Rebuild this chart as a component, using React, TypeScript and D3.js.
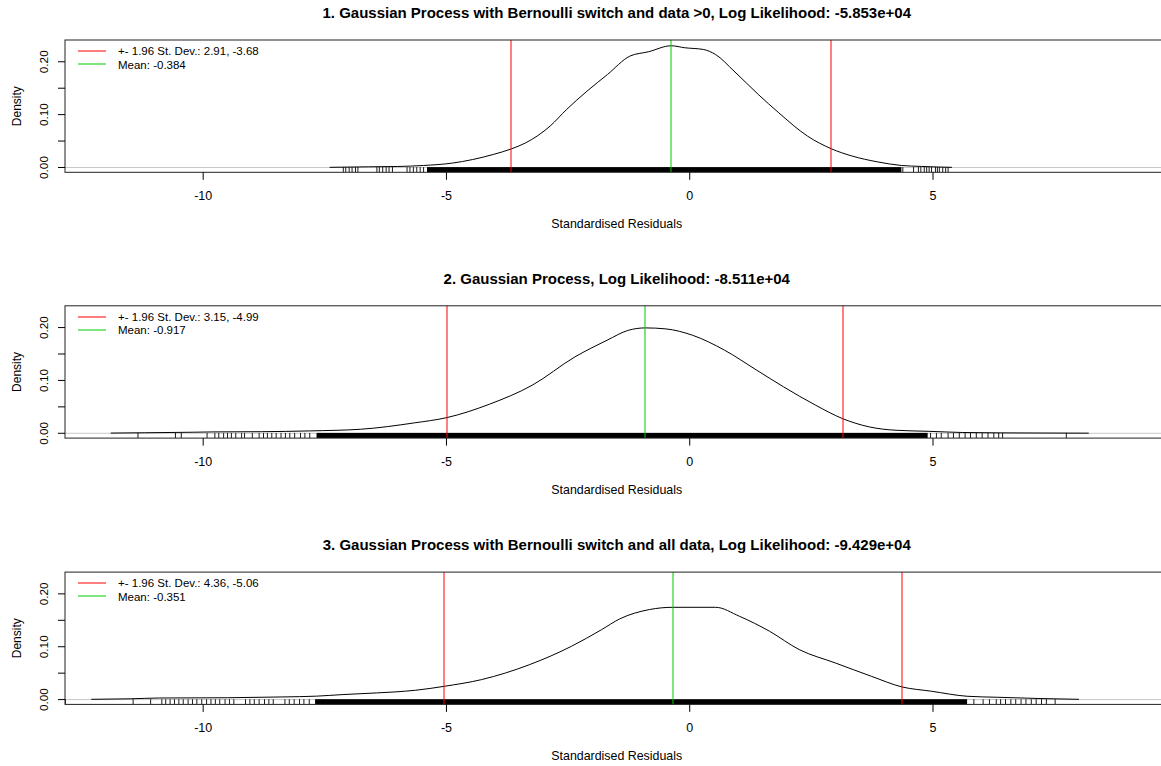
import React from "react";
import * as d3 from "d3";

// Panel titles
const titles = [
  "1. Gaussian Process with Bernoulli switch and data >0, Log Likelihood: -5.853e+04",
  "2. Gaussian Process, Log Likelihood: -8.511e+04",
  "3. Gaussian Process with Bernoulli switch and all data, Log Likelihood: -9.429e+04",
];

// Summary statistics shown in each legend and as vertical reference lines
const sdUpper = [2.91, 3.15, 4.36];
const sdLower = [-3.68, -4.99, -5.06];
const means = [-0.384, -0.917, -0.351];

// Kernel density estimates of the standardised residuals: [x, density]
const density1: [number, number][] = [
  [-7.4, 0.0003], [-7.0, 0.0008], [-6.6, 0.0013], [-6.0, 0.0019], [-5.47, 0.0038],
  [-4.88, 0.0083], [-4.04, 0.0246], [-3.66, 0.0354], [-3.37, 0.0467], [-2.87, 0.0783],
  [-2.53, 0.1098], [-2.11, 0.1445], [-1.69, 0.176], [-1.23, 0.2107], [-0.85, 0.2189],
  [-0.38, 0.2303], [-0.1, 0.2265], [0.28, 0.2233], [0.53, 0.2138], [0.91, 0.1824],
  [1.41, 0.1381], [1.83, 0.1035], [2.42, 0.0594], [2.91, 0.0354], [3.34, 0.0216],
  [3.85, 0.0108], [4.35, 0.0038], [4.77, 0.002], [5.1, 0.0009], [5.39, 0.0003],
];
const density2: [number, number][] = [
  [-11.9, 0.0004], [-11.2, 0.001], [-10.2, 0.002], [-9.8, 0.0026], [-8.8, 0.003],
  [-7.81, 0.0045], [-6.77, 0.0076], [-5.66, 0.0197], [-4.99, 0.0297], [-4.12, 0.0549],
  [-3.24, 0.0908], [-2.36, 0.1445], [-1.7, 0.176], [-1.26, 0.1949], [-0.91, 0.1994],
  [-0.49, 0.1975], [0.06, 0.1854], [0.72, 0.157], [1.38, 0.1192], [1.93, 0.0878],
  [2.59, 0.053], [3.14, 0.0278], [3.69, 0.0121], [4.24, 0.0057], [4.9, 0.0038],
  [5.6, 0.0015], [6.4, 0.0008], [7.2, 0.0005], [8.2, 0.0002],
];
const density3: [number, number][] = [
  [-12.3, 0.0005], [-11.5, 0.0015], [-10.9, 0.003], [-9.5, 0.0035], [-8.36, 0.005],
  [-7.67, 0.0065], [-7.13, 0.0095], [-6.44, 0.0126], [-6.06, 0.0145], [-5.63, 0.0177],
  [-5.04, 0.0252], [-4.28, 0.0378], [-3.29, 0.0662], [-2.43, 0.1009], [-1.81, 0.1324],
  [-1.44, 0.1526], [-0.83, 0.1703], [-0.345, 0.1746], [0.53, 0.1746], [1.02, 0.1577],
  [1.64, 0.1293], [2.25, 0.0946], [2.99, 0.0694], [3.73, 0.0442], [4.36, 0.024],
  [4.97, 0.0158], [5.7, 0.0063], [6.32, 0.0044], [7.2, 0.002], [8.0, 0.0005],
];

// Rug: the densely packed core of each sample, as an interval
const rugCore1: [number, number] = [-5.4, 4.35];
const rugCore2: [number, number] = [-7.67, 4.89];
const rugCore3: [number, number] = [-7.7, 5.7];

// Rug: individual residuals in the tails
const rugTails1 = [
  -7.12, -7.07, -7.0, -6.94, -6.87, -6.82, -6.43, -6.38, -6.31, -6.24, -6.18, -6.11,
  -5.81, -5.75, -5.68, -5.61, -5.54, -5.47,
  4.38, 4.6, 4.7, 4.75, 4.82, 4.87, 4.92, 4.97, 5.05, 5.09, 5.13, 5.2, 5.26, 5.31,
];
const rugTails2 = [
  -11.34, -10.57, -10.45, -9.92, -9.76, -9.68, -9.58, -9.5, -9.42, -9.33, -9.21, -9.15,
  -8.99, -8.85, -8.76, -8.68, -8.59, -8.5, -8.4, -8.31, -8.22, -8.12, -8.0, -7.91, -7.81,
  4.95, 5.07, 5.17, 5.31, 5.42, 5.54, 5.66, 5.77, 5.89, 6.01, 6.13, 6.25, 6.35, 6.43, 7.74,
];
const rugTails3 = [
  -12.83, -11.44, -11.08, -10.85, -10.77, -10.68, -10.59, -10.5, -10.41, -10.31, -10.22,
  -10.13, -10.03, -9.93, -9.84, -9.75, -9.66, -9.55, -9.46, -9.37, -9.13, -9.04, -8.95,
  -8.85, -8.74, -8.65, -8.56, -8.32, -8.23, -8.13, -8.02, -7.93, -7.82,
  5.84, 6.03, 6.16, 6.3, 6.39, 6.49, 6.6, 6.7, 6.81, 6.91, 7.02, 7.12, 7.23, 7.33, 7.51,
];

// Axis ticks
const xTicks = [-10, -5, 0, 5];
const yTicks = [0, 0.05, 0.1, 0.15, 0.2];
const yTickLabels = [0, 0.1, 0.2];

const densities = [density1, density2, density3];
const rugCores = [rugCore1, rugCore2, rugCore3];
const rugTails = [rugTails1, rugTails2, rugTails3];

const WIDTH = 1161;
const HEIGHT = 766;
const FONT = "'Liberation Sans', Arial, Helvetica, sans-serif";
const RED = "rgb(255,0,0)";
const GREEN = "rgb(0,205,0)";

const plotLeft = 65;
const plotRight = 1168.5;
const plotHeight = 132.3;
const panelTops = [40, 305.8, 572.1];

const x = d3.scaleLinear().domain([-12.84, 9.84]).range([plotLeft, plotRight]);

// A 1px vertical rule spanning the plot region
function VRule({ at, top, bottom, color }: { at: number; top: number; bottom: number; color: string }) {
  return <rect x={Math.round(at) - 0.5} y={top} width={1} height={bottom - top} fill={color} />;
}

// A short horizontal legend key
function HKey({ y, color }: { y: number; color: string }) {
  return <rect x={78} y={Math.round(y) - 0.5} width={28} height={1} fill={color} />;
}

function Panel({ idx }: { idx: number }) {
  const top = panelTops[idx];
  const bottom = top + plotHeight;
  const y = d3.scaleLinear().domain([-0.0091, 0.2412]).range([bottom, top]);
  const line = d3
    .line<[number, number]>()
    .x((d) => x(d[0]))
    .y((d) => y(d[1]))
    .curve(d3.curveMonotoneX);
  const rugTop = bottom - 5.2;
  const fmt = d3.format(".2f");
  const cx = (plotLeft + plotRight) / 2;

  return (
    <g>
      <defs>
        <clipPath id={`clip-${idx}`}>
          <rect x={plotLeft} y={top} width={plotRight - plotLeft} height={plotHeight} />
        </clipPath>
      </defs>
      <text
        x={cx}
        y={top - 21.7}
        textAnchor="middle"
        fontFamily={FONT}
        fontWeight="bold"
        fontSize={15}
        fill="#000"
      >
        {titles[idx]}
      </text>
      <g clipPath={`url(#clip-${idx})`}>
        {/* zero line */}
        <line x1={plotLeft} x2={plotRight} y1={y(0)} y2={y(0)} stroke="#c8c8c8" strokeWidth={1} />
        {/* density curve */}
        <path d={line(densities[idx]) ?? ""} fill="none" stroke="#000" strokeWidth={1} />
        {/* rug */}
        <rect
          x={x(rugCores[idx][0])}
          y={rugTop}
          width={x(rugCores[idx][1]) - x(rugCores[idx][0])}
          height={bottom - rugTop}
          fill="#000"
        />
        {rugTails[idx].map((v, i) => (
          <line
            key={i}
            x1={x(v)}
            x2={x(v)}
            y1={rugTop}
            y2={bottom}
            stroke="#000"
            strokeWidth={0.9}
          />
        ))}
        {/* reference lines */}
        <VRule at={x(sdUpper[idx])} top={top} bottom={bottom} color={RED} />
        <VRule at={x(sdLower[idx])} top={top} bottom={bottom} color={RED} />
        <VRule at={x(means[idx])} top={top} bottom={bottom} color={GREEN} />
      </g>
      {/* plot frame */}
      <rect
        x={plotLeft}
        y={top}
        width={plotRight - plotLeft}
        height={plotHeight}
        fill="none"
        stroke="#222"
        strokeWidth={1}
      />
      {/* legend */}
      <HKey y={top + 11.2} color={RED} />
      <HKey y={top + 24} color={GREEN} />
      <text x={118} y={top + 15.3} fontFamily={FONT} fontSize={11.5} fill="#000">
        {`+- 1.96 St. Dev.: ${sdUpper[idx]}, ${sdLower[idx]}`}
      </text>
      <text x={118} y={top + 28.6} fontFamily={FONT} fontSize={11.5} fill="#000">
        {`Mean: ${means[idx]}`}
      </text>
      {/* x axis */}
      {xTicks.map((t) => (
        <g key={t}>
          <line x1={x(t)} x2={x(t)} y1={bottom} y2={bottom + 7.5} stroke="#000" strokeWidth={1} />
          <text
            x={x(t)}
            y={bottom + 27.5}
            textAnchor="middle"
            fontFamily={FONT}
            fontSize={12.5}
            fill="#000"
          >
            {t}
          </text>
        </g>
      ))}
      <text
        x={cx}
        y={bottom + 56}
        textAnchor="middle"
        fontFamily={FONT}
        fontSize={12.4}
        fill="#000"
      >
        Standardised Residuals
      </text>
      {/* y axis */}
      {yTicks.map((t) => (
        <line key={t} x1={plotLeft - 7} x2={plotLeft} y1={y(t)} y2={y(t)} stroke="#000" strokeWidth={1} />
      ))}
      {yTickLabels.map((t) => (
        <text
          key={t}
          transform={`translate(${plotLeft - 17},${y(t)}) rotate(-90)`}
          textAnchor="middle"
          fontFamily={FONT}
          fontSize={11.8}
          fill="#000"
        >
          {fmt(t)}
        </text>
      ))}
      <text
        transform={`translate(21,${(top + bottom) / 2}) rotate(-90)`}
        textAnchor="middle"
        fontFamily={FONT}
        fontSize={12}
        fill="#000"
      >
        Density
      </text>
    </g>
  );
}

export default function App() {
  return (
    <svg
      width={WIDTH}
      height={HEIGHT}
      viewBox={`0 0 ${WIDTH} ${HEIGHT}`}
      style={{ position: "absolute", left: 0, top: 0, display: "block", background: "#fff" }}
    >
      <rect x={0} y={0} width={WIDTH} height={HEIGHT} fill="#fff" />
      {[0, 1, 2].map((i) => (
        <Panel key={i} idx={i} />
      ))}
    </svg>
  );
}
